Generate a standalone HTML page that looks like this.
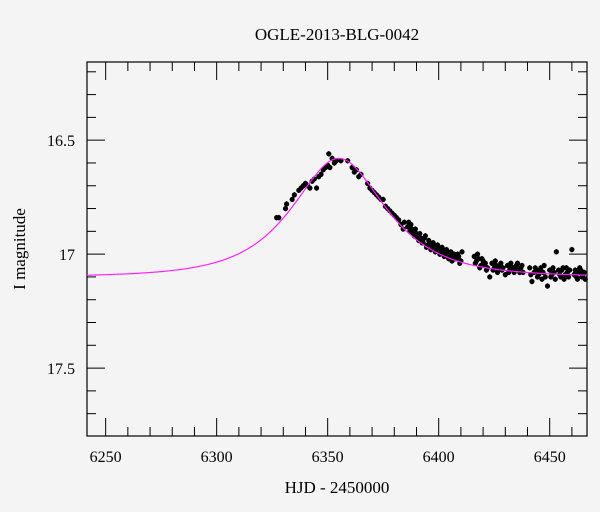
<!DOCTYPE html>
<html><head><meta charset="utf-8">
<style>
html,body{margin:0;padding:0;background:#f4f4f4;}
svg{display:block;font-family:"Liberation Serif",serif;}
</style></head>
<body>
<svg id="chart" width="600" height="512" viewBox="0 0 600 512" xmlns="http://www.w3.org/2000/svg">
<rect width="600" height="512" fill="#f4f4f4"/>
<text x="337" y="40" text-anchor="middle" font-size="17" fill="#000">OGLE-2013-BLG-0042</text>
<text x="337" y="493" text-anchor="middle" font-size="17" fill="#000">HJD - 2450000</text>
<text x="25" y="249" text-anchor="middle" font-size="17" fill="#000" transform="rotate(-90 25 249)">I magnitude</text>
<g id="ticks"></g>
<g id="model"></g>
<g id="points"></g>
<rect x="87" y="62" width="500" height="374" fill="none" stroke="#000" stroke-width="1.2"/>
</svg>
<script>
const xTickLabels = [6250, 6300, 6350, 6400, 6450];
const yTickLabels = ["16.5", "17", "17.5"];
const yTickValues = [16.5, 17, 17.5];
const modelParams = [6355, 0.74, 29.8, 17.10]; // t0, u0, tE, baseline I
const obsT = [6327,6328,6331,6331.5,6334,6335,6337,6338,6339,6340,6341,6342,6343,6344,6345,6346,6347,6348,6349,6350,6350.5,6351,6352,6353,6354,6356,6359,6361,6362,6363,6364,6365,
6368,6369,6370,6371,6372,6373,6374,6375,6376,6377,6378,6379,6380,6381,6382,6383,6384,6384.5,
6386,6387,6388,6389,6390,6391,6392,6393,6394,6395,6396,6397,6398,6399,6400,6401,6402,6403,6404,6405,6406,6407,6408,6409,6410,6410.5,
6386.5,6387.5,6388.5,6389.5,6390.5,6391.5,6392.5,6393.5,6394.5,6395.5,6396.5,6397.5,6398.5,6399.5,6400.5,6401.5,6402.5,6403.5,6404.5,6405.5,6406.5,6407.5,6408.5,6409.5,
6416,6417,6418,6419,6420,6421,6422,6423,6424,6425,6426,6427,6428,6429,6430,6431,6432,6433,6434,6435,6436,6437,6438,
6416.5,6417.5,6418.5,6419.5,6420.5,6421.5,6424.5,6425.5,6426.5,6427.5,6428.5,6431.5,6432.5,6433.5,6434.5,6435.5,6436.5,6437.5,
6441,6442,6443,6444,6445,6446,6447,6448,6449,6450,6451,6452,6453,6454,6455,6456,6457,6458,6459,6460,6461,6462,6463,6464,6465,6466,
6441.5,6443.5,6444.5,6445.5,6446.5,6447.5,6450.5,6451.5,6452.5,6454.5,6455.5,6456.5,6457.5,6458.5,6461.5,6462.5,6463.5,6464.5,6465.5];
const obsMag = [16.84,16.84,16.80,16.78,16.76,16.74,16.72,16.71,16.70,16.69,16.70,16.71,16.68,16.67,16.71,16.66,16.65,16.63,16.62,16.61,16.56,16.62,16.58,16.60,16.59,16.59,16.59,16.62,16.64,16.63,16.66,16.65,
16.69,16.71,16.72,16.73,16.74,16.75,16.76,16.76,16.79,16.80,16.81,16.82,16.83,16.84,16.85,16.87,16.89,16.86,
16.88,16.90,16.89,16.92,16.91,16.94,16.93,16.95,16.92,16.96,16.95,16.97,16.96,16.98,16.97,16.99,16.98,17.00,16.99,17.01,17.03,17.00,17.02,17.01,17.03,16.99,
16.86,16.87,16.91,16.89,16.93,16.91,16.95,16.93,16.97,16.94,16.98,16.95,16.99,16.96,17.00,16.97,17.01,16.98,17.02,16.99,17.01,17.02,17.00,17.04,
17.01,17.03,17.02,17.05,17.03,17.04,17.06,17.10,17.04,17.06,17.05,17.07,17.04,17.06,17.09,17.05,17.07,17.06,17.08,17.05,17.07,17.06,17.08,
17.04,17.00,17.06,17.02,17.05,17.07,17.07,17.03,17.08,17.05,17.07,17.08,17.04,17.06,17.07,17.04,17.08,17.05,
17.06,17.12,17.08,17.07,17.09,17.06,17.08,17.10,17.14,17.07,17.09,17.08,16.99,17.07,17.10,17.06,17.09,17.08,17.07,16.98,17.09,17.10,17.08,17.07,17.09,17.11,
17.09,17.06,17.10,17.07,17.11,17.05,17.10,17.06,17.11,17.09,17.07,17.11,17.06,17.10,17.07,17.11,17.06,17.10,17.08];
const obsErr = 0.012;

const NS = "http://www.w3.org/2000/svg";
const L = 87, R = 587, T = 62, B = 436;
const xMin = 6241.6, xMax = 6466.8, yMin = 16.157, yMax = 17.798;
function xs(v){ return L + (v - xMin) / (xMax - xMin) * (R - L); }
function ys(v){ return T + (v - yMin) / (yMax - yMin) * (B - T); }
function mk(tag, attrs){ const e = document.createElementNS(NS, tag); for (const k in attrs) e.setAttribute(k, attrs[k]); return e; }

const ticks = document.getElementById("ticks");
// x ticks (minor every 10, major every 50), bottom and top
for (let v = 6250; v <= 6460; v += 10) {
  const x = xs(v), major = (v % 50 === 0), len = major ? 18 : 9;
  const t1 = mk("line", {x1:x, y1:B, x2:x, y2:B-len, stroke:"#000", "stroke-width":1});
  
  
  ticks.appendChild(t1);
  const t2 = mk("line", {x1:x, y1:T, x2:x, y2:T+len, stroke:"#000", "stroke-width":1});
  
  
  ticks.appendChild(t2);
}
xTickLabels.forEach(v => {
  const t = mk("text", {x:xs(v), y:B+26, "text-anchor":"middle", "font-size":16, fill:"#000"});
  t.textContent = v;
  
  
  ticks.appendChild(t);
});
// y ticks (minor every 0.1)
for (let i = 2; i <= 17; i++) {
  const v = 16.0 + i * 0.1, y = ys(v), major = (i % 5 === 0), len = major ? 18 : 9;
  const t1 = mk("line", {x1:L, y1:y, x2:L+len, y2:y, stroke:"#000", "stroke-width":1});
  
  
  ticks.appendChild(t1);
  const t2 = mk("line", {x1:R, y1:y, x2:R-len, y2:y, stroke:"#000", "stroke-width":1});
  
  
  ticks.appendChild(t2);
}
yTickValues.forEach((v, i) => {
  const t = mk("text", {x:L-12, y:ys(v)+6, "text-anchor":"end", "font-size":16, fill:"#000"});
  t.textContent = yTickLabels[i];
  
  
  ticks.appendChild(t);
});

// model curve (Paczynski)
function modelMag(t){
  const [t0, u0, tE, base] = modelParams;
  const tau = (t - t0) / tE, u2 = u0*u0 + tau*tau, u = Math.sqrt(u2);
  const A = (u2 + 2) / (u * Math.sqrt(u2 + 4));
  return base - 2.5 * Math.log10(A);
}
let d = "";
for (let t = xMin; t <= xMax; t += 0.5) d += (d ? "L" : "M") + xs(t).toFixed(2) + " " + ys(modelMag(t)).toFixed(2);
const path = mk("path", {d:d, fill:"none", stroke:"#ff22ff", "stroke-width":1.2});


document.getElementById("model").appendChild(path);

// data points with error bars
const pts = document.getElementById("points");
obsT.forEach((t, i) => {
  const x = xs(t), y = ys(obsMag[i]);
  const eb = mk("line", {x1:x, y1:ys(obsMag[i]-obsErr), x2:x, y2:ys(obsMag[i]+obsErr), stroke:"#000", "stroke-width":1});
  
  
  pts.appendChild(eb);
  const c = mk("circle", {cx:x, cy:y, r:2.6, fill:"#000"});
  
  
  pts.appendChild(c);
});
// keep model line visible over points
document.getElementById("chart").appendChild(document.getElementById("model"));
</script>
</body></html>
